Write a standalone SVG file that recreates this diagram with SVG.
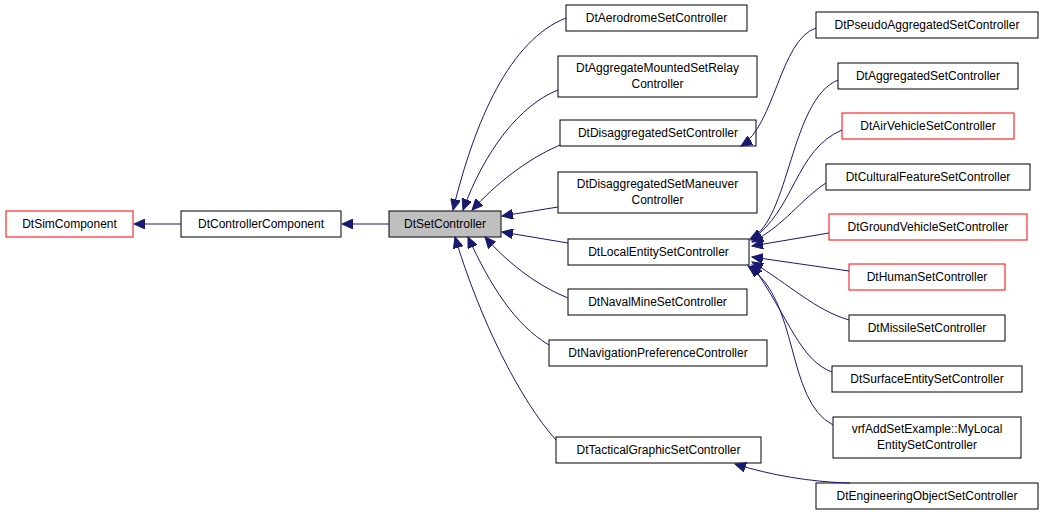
<svg xmlns="http://www.w3.org/2000/svg" width="1045" height="516" viewBox="0 0 1045 516">
<style>
.n rect{fill:#fff;stroke:#000;stroke-width:1}
.r rect{stroke:#f00}
text{font-family:"Liberation Sans",Arial,sans-serif;font-size:12px;text-anchor:middle;fill:#000}
#edges path{fill:none;stroke:#191970;stroke-width:1;marker-start:url(#a)}
</style>
<defs><marker id="a" markerWidth="12" markerHeight="10" refX="11" refY="5" orient="auto-start-reverse" markerUnits="userSpaceOnUse"><path d="M0,0 L11,5 L0,10 Z" fill="#191970" stroke="#191970"/></marker></defs>
<g id="DtSimComponent" class="n r"><rect x="6" y="211" width="127" height="26"/><text x="69.5" y="228">DtSimComponent</text></g>
<g id="DtControllerComponent" class="n"><rect x="181" y="211" width="160" height="26"/><text x="261" y="228">DtControllerComponent</text></g>
<g id="DtSetController" class="n"><rect x="389" y="211" width="112" height="26" style="fill:#bfbfbf"/><text x="445" y="228">DtSetController</text></g>
<g id="DtAerodromeSetController" class="n"><rect x="566" y="5" width="181" height="26"/><text x="656.5" y="22">DtAerodromeSetController</text></g>
<g id="DtAggregateMountedSetRelayController" class="n"><rect x="558" y="56" width="199" height="41"/><text x="657.5" y="72">DtAggregateMountedSetRelay</text><text x="657.5" y="88">Controller</text></g>
<g id="DtDisaggregatedSetController" class="n"><rect x="560" y="120" width="196" height="26"/><text x="658" y="137">DtDisaggregatedSetController</text></g>
<g id="DtDisaggregatedSetManeuverController" class="n"><rect x="558" y="172" width="199" height="41"/><text x="657.5" y="188">DtDisaggregatedSetManeuver</text><text x="657.5" y="204">Controller</text></g>
<g id="DtLocalEntitySetController" class="n"><rect x="568" y="239" width="181" height="26"/><text x="658.5" y="256">DtLocalEntitySetController</text></g>
<g id="DtNavalMineSetController" class="n"><rect x="568" y="289" width="179" height="26"/><text x="657.5" y="306">DtNavalMineSetController</text></g>
<g id="DtNavigationPreferenceController" class="n"><rect x="549" y="340" width="218" height="26"/><text x="658" y="357">DtNavigationPreferenceController</text></g>
<g id="DtTacticalGraphicSetController" class="n"><rect x="556" y="437" width="205" height="26"/><text x="658.5" y="454">DtTacticalGraphicSetController</text></g>
<g id="DtPseudoAggregatedSetController" class="n"><rect x="816" y="12" width="222" height="26"/><text x="927" y="29">DtPseudoAggregatedSetController</text></g>
<g id="DtAggregatedSetController" class="n"><rect x="838" y="63" width="180" height="26"/><text x="928" y="80">DtAggregatedSetController</text></g>
<g id="DtAirVehicleSetController" class="n r"><rect x="842" y="113" width="172" height="26"/><text x="928" y="130">DtAirVehicleSetController</text></g>
<g id="DtCulturalFeatureSetController" class="n"><rect x="826" y="164" width="204" height="26"/><text x="928" y="181">DtCulturalFeatureSetController</text></g>
<g id="DtGroundVehicleSetController" class="n r"><rect x="829" y="214" width="198" height="26"/><text x="928" y="231">DtGroundVehicleSetController</text></g>
<g id="DtHumanSetController" class="n r"><rect x="849" y="264" width="156" height="26"/><text x="927" y="281">DtHumanSetController</text></g>
<g id="DtMissileSetController" class="n"><rect x="849" y="315" width="156" height="26"/><text x="927" y="332">DtMissileSetController</text></g>
<g id="DtSurfaceEntitySetController" class="n"><rect x="832" y="366" width="190" height="26"/><text x="927" y="383">DtSurfaceEntitySetController</text></g>
<g id="MyLocalEntitySetController" class="n"><rect x="833" y="417" width="188" height="41"/><text x="927" y="433">vrfAddSetExample::MyLocal</text><text x="927" y="449">EntitySetController</text></g>
<g id="DtEngineeringObjectSetController" class="n"><rect x="816" y="483" width="222" height="26"/><text x="927" y="500">DtEngineeringObjectSetController</text></g>
<g id="edges">
<path d="M134,224 H181"/>
<path d="M342,224 H389"/>
<path d="M453,210 C475,120 510,40 566,18"/>
<path d="M463,210 C485,150 520,105 558,90"/>
<path d="M472,210 C495,185 525,160 560,145"/>
<path d="M502,216 L558,207"/>
<path d="M502,232 L568,243"/>
<path d="M485,237 C505,260 535,285 568,298"/>
<path d="M468,237 C490,285 515,325 549,345"/>
<path d="M455,237 C480,320 520,400 556,440"/>
<path d="M741,146 C775,125 780,40 816,28"/>
<path d="M735,464 C770,475 810,482 850,483"/>
<path d="M750,239 C790,220 790,100 838,80"/>
<path d="M751,240 C795,210 795,150 842,130"/>
<path d="M752,242 C785,225 800,200 826,183"/>
<path d="M752,246 L829,233"/>
<path d="M752,257 L849,271"/>
<path d="M752,262 C790,285 815,310 849,320"/>
<path d="M752,265 C790,320 800,360 832,372"/>
<path d="M748,266 C800,300 785,400 833,425"/>
</g>
</svg>
